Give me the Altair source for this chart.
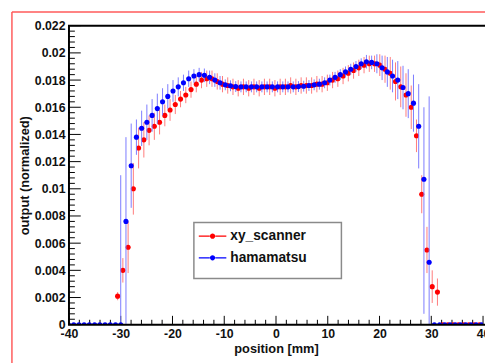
import altair as alt
import pandas as pd

# ---------------- data ----------------
x_major = [-40, -30, -20, -10, 0, 10, 20, 30, 40]
x_minor = [v for v in range(-40, 41, 2) if v % 10 != 0]
y_major = [0, 0.002, 0.004, 0.006, 0.008, 0.01, 0.012, 0.014, 0.016, 0.018, 0.02, 0.022]
y_minor = [round(i * 0.0004, 4) for i in range(56) if i % 5 != 0]

series_names = ["xy_scanner", "hamamatsu"]
series_colors = ["#ff0000", "#0000ff"]
bar_colors = ["#ff7a7a", "#7a7aff"]

# hamamatsu (blue): scan grid start / step in mm
blue_x0, blue_dx = -40.1, 1.01
blue_y = ([0] * 11 +
          [0.0076, 0.0117, 0.0138, 0.01445, 0.0149, 0.0154, 0.0159, 0.0164, 0.0168, 0.0172,
           0.0175, 0.0178, 0.0181, 0.0183, 0.0184, 0.01835, 0.0182, 0.0180, 0.0178, 0.01765,
           0.01758, 0.01752, 0.0175, 0.0175, 0.0175, 0.0175, 0.0175, 0.0175, 0.0175, 0.0175,
           0.0175, 0.0175, 0.0175, 0.01752, 0.01755, 0.0176, 0.01765, 0.0177, 0.0178, 0.0180,
           0.0182, 0.0184, 0.0186, 0.0188, 0.0190, 0.0192, 0.01935, 0.0193, 0.0192, 0.0189,
           0.0186, 0.0183, 0.0180, 0.01745, 0.0170, 0.0163, 0.0146, 0.0107, 0.0046] +
          [0] * 10)
blue_err_hi = ([0] * 10 + [0.011, 0.0062, 0.0031] +
               [0.0013, 0.0013, 0.0013, 0.0012, 0.0011, 0.0010, 0.0009, 0.0008, 0.0007, 0.0006, 0.0006] +
               [0.0005] * 6 + [0.0004] * 27 + [0.0005] * 2 +
               [0.0007, 0.0009, 0.0011, 0.0012, 0.0014, 0.0016, 0.0018, 0.0021, 0.0031, 0.0053, 0.0122] +
               [0] * 10)
blue_err_lo = ([0] * 10 + [0.0, 0.0076, 0.0031] +
               [0.0013, 0.0013, 0.0013, 0.0012, 0.0011, 0.0010, 0.0009, 0.0008, 0.0007, 0.0006, 0.0006] +
               [0.0005] * 6 + [0.0004] * 27 + [0.0005] * 2 +
               [0.0007, 0.0009, 0.0011, 0.0012, 0.0014, 0.0016, 0.0018, 0.0021, 0.0031, 0.0099, 0.0046] +
               [0] * 10)

# xy_scanner (red)
red_x0, red_dx = -30.6, 1.013
red_y = [0.0021, 0.0040, 0.0057, 0.0100, 0.0130, 0.0136, 0.0143, 0.0146, 0.0149, 0.0154,
         0.0158, 0.0162, 0.0166, 0.0169, 0.0173, 0.0177, 0.0180, 0.0181, 0.0181, 0.0179,
         0.0177, 0.0176, 0.0175, 0.0174, 0.0175, 0.0174, 0.0175, 0.0174, 0.0175, 0.0175,
         0.0174, 0.0175, 0.0175, 0.0176, 0.0175, 0.0176, 0.0176, 0.0176, 0.0177, 0.0177,
         0.0178, 0.0180, 0.0181, 0.0183, 0.0185, 0.0187, 0.0189, 0.0191, 0.0192, 0.0192,
         0.0191, 0.0188, 0.0185, 0.0179, 0.0175, 0.0169, 0.0160, 0.0139, 0.0096, 0.0055,
         0.0028, 0.0024, 0, 0, 0, 0, 0, 0, 0, 0]
red_err = ([0.0003, 0.0009, 0.0019, 0.0019, 0.0015, 0.0013, 0.0011, 0.0010, 0.0009, 0.0008, 0.0008, 0.0007] +
           [0.0006] * 38 +
           [0.0008, 0.0010, 0.0012, 0.0014, 0.0015, 0.0016, 0.0016, 0.0012, 0.0014, 0.0017, 0.0012, 0.0010] +
           [0] * 8)

# ---------------- tables ----------------
blue = pd.DataFrame({
    "x": [round(blue_x0 + i * blue_dx, 3) for i in range(len(blue_y))],
    "y": blue_y,
    "lo": [max(0.0, y - e) for y, e in zip(blue_y, blue_err_lo)],
    "hi": [y + e for y, e in zip(blue_y, blue_err_hi)],
    "series": series_names[1],
})
red = pd.DataFrame({
    "x": [round(red_x0 + i * red_dx, 3) for i in range(len(red_y))],
    "y": red_y,
    "lo": [max(0.0, y - e) for y, e in zip(red_y, red_err)],
    "hi": [y + e for y, e in zip(red_y, red_err)],
    "series": series_names[0],
})

W, H = 421, 304
FONT = "Liberation Sans"

xs = alt.Scale(domain=[-40, 40], nice=False, zero=False)
ys = alt.Scale(domain=[0, 0.022], nice=False, zero=False)
cs = alt.Scale(domain=series_names, range=series_colors)

LEG_PATH = ("M -1 -0.045 L -0.2 -0.045 L -0.2 0.045 L -1 0.045 Z "
            "M 0.2 -0.045 L 1 -0.045 L 1 0.045 L 0.2 0.045 Z "
            "M 0.19 0 A 0.19 0.19 0 1 1 -0.19 0 A 0.19 0.19 0 1 1 0.19 0 Z")

x_axis = alt.Axis(values=x_major, title="position [mm]", ticks=False, domain=False, grid=False,
                  labelExpr="datum.value + ''", labelPadding=3, titlePadding=3,
                  labelFont=FONT, labelFontWeight="bold", labelFontSize=12.5, labelColor="#111",
                  titleFont=FONT, titleFontWeight="bold", titleFontSize=13, titleColor="#111",
                  labelFlush=False, labelOverlap=False)
y_axis = alt.Axis(values=y_major, title="output (normalized)", ticks=False, domain=False, grid=False,
                  labelExpr="datum.value + ''", labelPadding=4, titlePadding=3,
                  labelFont=FONT, labelFontWeight="bold", labelFontSize=12.5, labelColor="#111",
                  titleFont=FONT, titleFontWeight="bold", titleFontSize=13, titleColor="#111",
                  labelFlush=False, labelOverlap=False)

legend = alt.Legend(title=None, orient="none", legendX=127, legendY=200,
                    symbolType=LEG_PATH, symbolSize=784, symbolOffset=5, symbolStrokeWidth=0,
                    labelOffset=4, labelFont=FONT, labelFontWeight="bold", labelFontSize=14,
                    labelColor="#111", rowPadding=1, padding=0)

one = pd.DataFrame({"a": [0]})

# canvas highlight border (decoration)
border_left = alt.Chart(one).mark_rule(color="#ff5a5a", strokeWidth=1.5).encode(
    x=alt.value(-58), y=alt.value(-14), y2=alt.value(345))
border_top = alt.Chart(one).mark_rule(color="#ff5a5a", strokeWidth=1.5).encode(
    x=alt.value(-58), x2=alt.value(430), y=alt.value(-14))
# plot frame: left, top, bottom (right edge runs off the canvas)
frame_left = alt.Chart(one).mark_rule(color="black", strokeWidth=2).encode(
    x=alt.value(0), y=alt.value(0), y2=alt.value(H))
frame_top = alt.Chart(one).mark_rule(color="black", strokeWidth=2).encode(
    x=alt.value(-1), x2=alt.value(W + 6), y=alt.value(0))
frame_bottom = alt.Chart(one).mark_rule(color="black", strokeWidth=2).encode(
    x=alt.value(-1), x2=alt.value(W + 6), y=alt.value(H))
legend_box = alt.Chart(one).mark_rect(
    fill="white", stroke="#8a8a8a", strokeWidth=1.5).encode(
    x=alt.value(127), x2=alt.value(277), y=alt.value(200), y2=alt.value(257))

# ticks (inward, ROOT style)
yt_major = alt.Chart(pd.DataFrame({"v": y_major})).mark_rule(color="black", strokeWidth=1).encode(
    y=alt.Y("v:Q", scale=ys, axis=y_axis), x=alt.value(0), x2=alt.value(12))
yt_minor = alt.Chart(pd.DataFrame({"v": y_minor})).mark_rule(color="black", strokeWidth=1).encode(
    y=alt.Y("v:Q", scale=ys, axis=y_axis), x=alt.value(0), x2=alt.value(6))
xt_major = alt.Chart(pd.DataFrame({"v": x_major})).mark_rule(color="black", strokeWidth=1).encode(
    x=alt.X("v:Q", scale=xs, axis=x_axis), y=alt.value(H), y2=alt.value(H - 9))
xt_minor = alt.Chart(pd.DataFrame({"v": x_minor})).mark_rule(color="black", strokeWidth=1).encode(
    x=alt.X("v:Q", scale=xs, axis=x_axis), y=alt.value(H), y2=alt.value(H - 5))


def bars(df, color):
    d = df[df["hi"] > df["lo"]]
    return alt.Chart(d).mark_rule(color=color, strokeWidth=1, clip=True).encode(
        x=alt.X("x:Q", scale=xs, axis=x_axis),
        y=alt.Y("lo:Q", scale=ys, axis=y_axis),
        y2="hi:Q")


def pts(df):
    return alt.Chart(df).mark_circle(size=27, opacity=1, clip=True).encode(
        x=alt.X("x:Q", scale=xs, axis=x_axis),
        y=alt.Y("y:Q", scale=ys, axis=y_axis),
        color=alt.Color("series:N", scale=cs, legend=legend))


chart = alt.layer(
    border_left, border_top,
    yt_major, yt_minor, xt_major, xt_minor,
    bars(red, bar_colors[0]), pts(red),
    bars(blue, bar_colors[1]), pts(blue),
    frame_left, frame_top, frame_bottom,
    legend_box,
).properties(
    width=W, height=H,
    autosize=alt.AutoSizeParams(type="none"),
    padding={"left": 62, "top": 15, "right": 2, "bottom": 40},
    background="white",
).configure_view(stroke=None)

chart.save("out.html", embed_options={"renderer": "svg", "actions": False})
